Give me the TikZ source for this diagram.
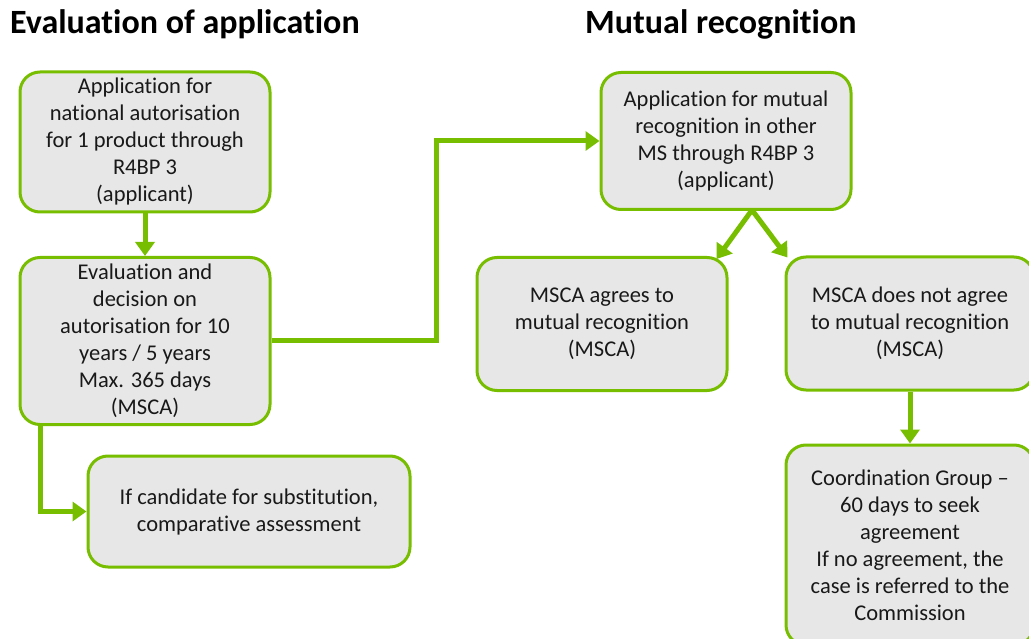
\documentclass[tikz,border=0pt]{standalone}
\usepackage{fontspec}
\setmainfont{Carlito}[Ligatures=NoCommon]
\usetikzlibrary{arrows.meta,calc}
\definecolor{leaf}{RGB}{120,190,0}
\definecolor{boxfill}{RGB}{231,231,231}
\definecolor{ink}{RGB}{25,25,25}
\tikzset{
  stepbox/.style={draw=leaf, line width=3pt, fill=boxfill, rounded corners=20pt,
    inner sep=0pt, align=center, text=ink,
    font={\fontsize{22.5}{27}\selectfont}},
  flow/.style={draw=leaf, line width=5pt,
    -{Triangle[width=19pt,length=14pt]}},
  heading/.style={anchor=west, inner sep=0pt, text=black,
    font={\fontsize{34}{38}\selectfont\bfseries}}
}
\begin{document}
\begin{tikzpicture}[x=1pt,y=-1pt]
\useasboundingbox (0,0) rectangle (1029,639);
\clip (0,0) rectangle (1029,639);
\fill[white] (0,0) rectangle (1029,639);

% headings
\node[heading] (h1) at (10,24) {Evaluation of application};
\node[heading] (h2) at (585,24) {Mutual recognition};

% left column: national authorisation
\node[stepbox, minimum width=250pt, minimum height=140pt] (A) at (145,142)
  {Application for\\national autorisation\\for 1 product through\\R4BP 3\\(applicant)};
\node[stepbox, minimum width=250pt, minimum height=167pt] (B) at (145,341)
  {Evaluation and\\decision on\\autorisation for 10\\years / 5 years\\Max. 365 days\\(MSCA)};
\node[stepbox, minimum width=322pt, minimum height=111pt] (C) at (249,511.5)
  {If candidate for substitution,\\comparative assessment};

% right column: mutual recognition
\node[stepbox, minimum width=250pt, minimum height=137pt] (D) at (726,141)
  {Application for mutual\\recognition in other\\MS through R4BP 3\\(applicant)};
\node[stepbox, minimum width=250pt, minimum height=133pt] (E) at (602,324)
  {MSCA agrees to\\mutual recognition\\(MSCA)};
\node[stepbox, minimum width=248pt, minimum height=133pt] (F) at (910,323.5)
  {MSCA does not agree\\to mutual recognition\\(MSCA)};
\node[stepbox, minimum width=248pt, minimum height=200pt] (G) at (910,545)
  {Coordination Group --\\60 days to seek\\agreement\\If no agreement, the\\case is referred to the\\Commission};

% connectors
\draw[flow] (A.south) -- (B.north);
\draw[flow] (B.east) -- ++(165,0) |- (D.west);
\draw[flow] ([xshift=22pt]B.south west) |- (C.west);
\coordinate (split) at ([xshift=26pt,yshift=1pt]D.south);
\draw[flow] (split) -- ([xshift=-12pt,yshift=-3pt]E.north east);
\draw[flow] (split) -- ([xshift=3pt,yshift=-2pt]F.north west);
\draw[flow] (F.south) -- (G.north);
\end{tikzpicture}
\end{document}
